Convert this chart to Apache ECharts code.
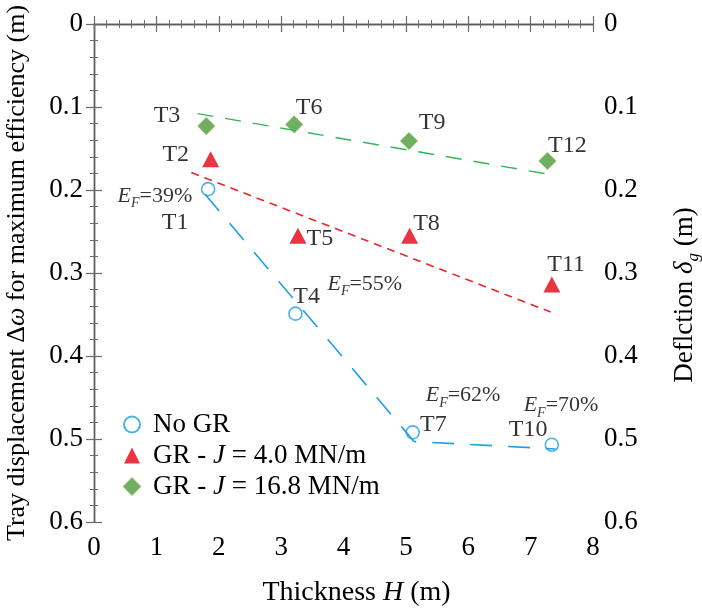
<!DOCTYPE html>
<html>
<head>
    <meta charset="utf-8"/>
    <title>Tray displacement vs thickness</title>
    <script src="https://cdn.jsdelivr.net/npm/echarts@6/dist/echarts.min.js"></script>
    <style>
        html, body { margin: 0; padding: 0; background: #fff; }
        #myChart { width: 702px; height: 610px; }
    </style>
</head>
<body>
<div id="myChart"></div>
<script>
    var FONT = "'Liberation Serif', 'Times New Roman', serif";

    // tick labels
    var xTickLabels = ['0', '1', '2', '3', '4', '5', '6', '7', '8'];
    var yTickLabels = ['0', '0.1', '0.2', '0.3', '0.4', '0.5', '0.6'];

    // measured points: thickness H (m) and tray displacement (m)
    var noGrH = [1.83, 3.23, 5.11, 7.34];
    var noGrDw = [0.199, 0.349, 0.492, 0.507];
    var gr4H = [1.87, 3.27, 5.06, 7.34];
    var gr4Dw = [0.163, 0.255, 0.255, 0.314];
    var gr168H = [1.80, 3.21, 5.05, 7.27];
    var gr168Dw = [0.123, 0.121, 0.141, 0.165];

    // dashed trend lines
    var noGrTrendH = [1.78, 5.13, 7.40];
    var noGrTrendDw = [0.205, 0.503, 0.512];
    var gr4TrendH = [1.56, 7.32];
    var gr4TrendDw = [0.179, 0.347];
    var gr168TrendH = [1.66, 7.36];
    var gr168TrendDw = [0.108, 0.182];

    // test names
    var testNames = ['T1', 'T2', 'T3', 'T4', 'T5', 'T6', 'T7', 'T8', 'T9', 'T10', 'T11', 'T12'];
    var testNameH = [1.30, 1.31, 1.17, 3.41, 3.62, 3.45, 5.44, 5.33, 5.42, 6.96, 7.57, 7.59];
    var testNameDw = [0.240, 0.158, 0.110, 0.329, 0.259, 0.101, 0.483, 0.241, 0.119, 0.489, 0.290, 0.147];

    // efficiency notes
    var efValues = ['39%', '55%', '62%', '70%'];
    var efH = [0.37, 3.735, 5.31, 6.88];
    var efDw = [0.207, 0.313, 0.447, 0.459];

    var seriesNames = ['No GR', 'GR - J = 4.0 MN/m', 'GR - J = 16.8 MN/m'];

    var zip = function (xs, ys) {
        var out = [];
        for (var i = 0; i < xs.length; i++) {
            out.push([xs[i], ys[i]]);
        }
        return out;
    };

    var tickStyle = {
        inside: true, length: 8,
        lineStyle: {color: '#6b6b6b', width: 1.2}
    };
    var minorStyle = {
        show: true, splitNumber: 5, length: 4,
        lineStyle: {color: '#6b6b6b', width: 1}
    };
    var lineStyle = {show: true, lineStyle: {color: '#5a5a5a', width: 1.4}};

    var myChart = echarts.init(document.getElementById('myChart'));
    var option = {
        backgroundColor: '#fff',
        animation: false,
        textStyle: {fontFamily: FONT, color: '#000'},
        grid: {left: 94, right: 109, top: 24, bottom: 88, containLabel: false, outerBoundsMode: 'none'},
        legend: {
            orient: 'vertical',
            left: 118,
            top: 406,
            itemWidth: 16,
            itemHeight: 16,
            itemGap: 4,
            data: seriesNames,
            formatter: function (name) {
                return name.replace('J', '{i|J}');
            },
            textStyle: {
                fontFamily: FONT, fontSize: 27, color: '#000', padding: [0, 0, 0, 8],
                rich: {i: {fontFamily: FONT, fontSize: 27, fontStyle: 'italic', color: '#000'}}
            }
        },
        xAxis: [{
            type: 'value', min: 0, max: 8, interval: 1,
            position: 'bottom',
            name: 'Thickness {i|H} (m)',
            nameLocation: 'middle',
            nameGap: 57,
            nameTextStyle: {
                fontFamily: FONT, fontSize: 28, color: '#000', padding: [0, 0, 0, 26],
                rich: {i: {fontFamily: FONT, fontSize: 28, fontStyle: 'italic', color: '#000'}}
            },
            axisLine: lineStyle,
            axisTick: tickStyle,
            minorTick: minorStyle,
            splitLine: {show: false},
            axisLabel: {
                fontFamily: FONT, fontSize: 27, color: '#000', margin: 12,
                formatter: function (v, i) { return xTickLabels[i]; }
            }
        }, {
            type: 'value', min: 0, max: 8, interval: 1,
            position: 'top',
            axisLine: lineStyle,
            axisTick: tickStyle,
            minorTick: minorStyle,
            splitLine: {show: false},
            axisLabel: {show: false}
        }],
        yAxis: [{
            type: 'value', min: 0, max: 0.6, interval: 0.1, inverse: true,
            position: 'left',
            name: 'Tray displacement Δ{i|ω} for maximum efficiency (m)',
            nameLocation: 'middle',
            nameRotate: 90,
            nameGap: 64,
            nameTextStyle: {
                fontFamily: FONT, fontSize: 26, color: '#000',
                rich: {i: {fontFamily: FONT, fontSize: 26, fontStyle: 'italic', color: '#000'}}
            },
            axisLine: lineStyle,
            axisTick: tickStyle,
            minorTick: minorStyle,
            splitLine: {show: false},
            axisLabel: {
                fontFamily: FONT, fontSize: 27, color: '#000', margin: 11, padding: [0, 0, 9, 0],
                formatter: function (v, i) { return yTickLabels[i]; }
            }
        }, {
            type: 'value', min: 0, max: 0.6, interval: 0.1, inverse: true,
            position: 'right',
            name: 'Deflction {i|δ}{s|g} (m)',
            nameLocation: 'middle',
            nameRotate: 90,
            nameGap: 74,
            nameTextStyle: {
                fontFamily: FONT, fontSize: 27, color: '#000', padding: [0, 44, 0, 0],
                rich: {
                    i: {fontFamily: FONT, fontSize: 27, fontStyle: 'italic', color: '#000'},
                    s: {fontFamily: FONT, fontSize: 17, fontStyle: 'italic', color: '#000', padding: [18, 0, 0, 0]}
                }
            },
            axisLine: lineStyle,
            axisTick: tickStyle,
            minorTick: minorStyle,
            splitLine: {show: false},
            axisLabel: {
                fontFamily: FONT, fontSize: 27, color: '#000', margin: 11,
                formatter: function (v, i) { return yTickLabels[i]; }
            }
        }],
        series: [
            // trend lines
            {
                type: 'line', data: zip(noGrTrendH, noGrTrendDw), symbol: 'none', silent: true,
                lineStyle: {color: '#1E9FE3', width: 1.6, type: [22, 16]}
            },
            {
                type: 'line', data: zip(gr4TrendH, gr4TrendDw), symbol: 'none', silent: true,
                lineStyle: {color: '#E8262E', width: 1.6, type: [8, 6]}
            },
            {
                type: 'line', data: zip(gr168TrendH, gr168TrendDw), symbol: 'none', silent: true,
                lineStyle: {color: '#36B45A', width: 1.4, type: [16, 12]}
            },
            // measured points
            {
                name: seriesNames[0], type: 'scatter', data: zip(noGrH, noGrDw),
                symbol: 'circle', symbolSize: 13,
                itemStyle: {color: 'rgba(255,255,255,0)', borderColor: '#1E9FE3', borderWidth: 1.6}
            },
            {
                name: seriesNames[1], type: 'scatter', data: zip(gr4H, gr4Dw),
                symbol: 'triangle', symbolSize: [17, 16],
                itemStyle: {color: '#E60012'}
            },
            {
                name: seriesNames[2], type: 'scatter', data: zip(gr168H, gr168Dw),
                symbol: 'diamond', symbolSize: 16,
                itemStyle: {color: '#4E983C', borderColor: '#6DAF55', borderWidth: 1.5}
            },
            // test name labels
            {
                type: 'scatter', data: zip(testNameH, testNameDw), symbolSize: 1, silent: true,
                itemStyle: {color: 'rgba(0,0,0,0)'},
                label: {
                    show: true, position: 'inside',
                    fontFamily: FONT, fontSize: 24, color: '#000',
                    formatter: function (p) { return testNames[p.dataIndex]; }
                }
            },
            // efficiency labels
            {
                type: 'scatter', data: zip(efH, efDw), symbolSize: 1, silent: true,
                itemStyle: {color: 'rgba(0,0,0,0)'},
                label: {
                    show: true, position: 'right', distance: 0,
                    fontFamily: FONT, fontSize: 22, color: '#000',
                    formatter: function (p) { return '{e|E}{s|F}{n|=' + efValues[p.dataIndex] + '}'; },
                    rich: {
                        e: {fontFamily: FONT, fontSize: 22, fontStyle: 'italic', color: '#000'},
                        s: {fontFamily: FONT, fontSize: 14, fontStyle: 'italic', color: '#000', padding: [16, 0, 0, 0]},
                        n: {fontFamily: FONT, fontSize: 22, color: '#000'}
                    }
                }
            }
        ]
    };
    myChart.setOption(option);
</script>
</body>
</html>
